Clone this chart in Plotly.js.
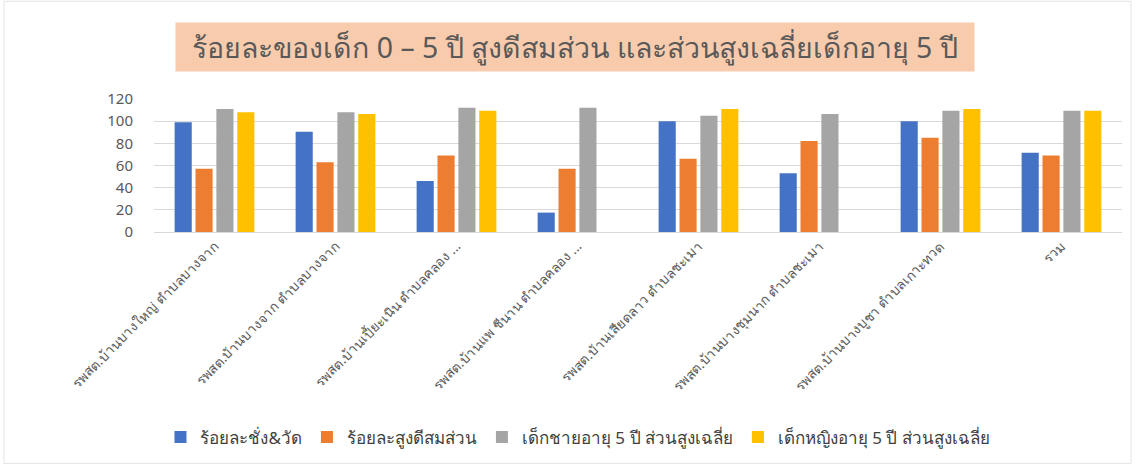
<!DOCTYPE html>
<html>
<head>
<meta charset="utf-8">
<script src="https://cdn.plot.ly/plotly-3.0.1.min.js"></script>
<style>html,body{margin:0;padding:0;background:#fff;}#chart{width:1136px;height:470px;}</style>
</head>
<body>
<div id="chart"></div>
<script>
const categories = [
  "รพสต.บ้านบางใหญ่ ตำบลบางจาก",
  "รพสต.บ้านบางจาก ตำบลบางจาก",
  "รพสต.บ้านเปี้ยะเนิน ตำบลคลอง ...",
  "รพสต.บ้านแพ ชีนาน ตำบลคลอง ...",
  "รพสต.บ้านเสียดลาว ตำบลชะเมา",
  "รพสต.บ้านบางชุมนาก ตำบลชะเมา",
  "รพสต.บ้านบางบูชา ตำบลเกาะทวด",
  "รวม"
];
const seriesNames = [
  "ร้อยละชั่ง&วัด",
  "ร้อยละสูงดีสมส่วน",
  "เด็กชายอายุ 5 ปี ส่วนสูงเฉลี่ย",
  "เด็กหญิงอายุ 5 ปี ส่วนสูงเฉลี่ย"
];
const weighMeasure = [99, 90.5, 46, 17.5, 100, 53, 100, 71.5];
const goodShape   = [57, 63, 69, 57, 66, 82, 85, 69];
const boysHeight  = [111, 108, 112, 112, 105, 106.5, 109.5, 109.5];
const girlsHeight = [108, 106.5, 109.5, null, 111, null, 111, 109.5];
const tickVals = [0, 20, 40, 60, 80, 100, 120];
const titleText = "ร้อยละของเด็ก 0 – 5 ปี สูงดีสมส่วน และส่วนสูงเฉลี่ยเด็กอายุ 5 ปี";

const colors = ["#4472C4", "#ED7D31", "#A5A5A5", "#FFC000"];
const seriesData = [weighMeasure, goodShape, boysHeight, girlsHeight];
const FONT = "Tahoma, 'Noto Sans', 'DejaVu Sans', sans-serif";

const traces = seriesData.map((vals, i) => ({
  type: "bar",
  name: seriesNames[i],
  x: categories,
  y: vals,
  marker: {color: colors[i]},
  hoverinfo: "x+y+name"
}));

const layout = {
  width: 1136,
  height: 470,
  paper_bgcolor: "#ffffff",
  plot_bgcolor: "#ffffff",
  margin: {l: 154, r: 14, t: 99, b: 238},
  barmode: "group",
  bargap: 0.31,
  bargroupgap: 0.18,
  font: {family: FONT, color: "#595959"},
  showlegend: true,
  legend: {
    orientation: "h",
    x: 0.438, xanchor: "center",
    y: -1.545, yanchor: "middle",
    font: {size: 17, color: "#404040", family: FONT},
    itemwidth: 30,
    traceorder: "normal"
  },
  xaxis: {
    type: "category",
    tickangle: -45,
    tickfont: {size: 13.5, color: "#595959", family: FONT},
    showgrid: false,
    showline: true,
    linecolor: "#d9d9d9",
    ticks: "",
    automargin: false
  },
  yaxis: {
    range: [0, 120],
    tickvals: tickVals,
    tickfont: {size: 15, color: "#595959", family: FONT},
    showgrid: true,
    gridcolor: "#d9d9d9",
    zeroline: false,
    showline: false,
    ticks: "",
    ticklabelstandoff: 20,
    automargin: false
  },
  annotations: [{
    xref: "paper", yref: "paper",
    x: 0.435, y: 1.394,
    xanchor: "center", yanchor: "middle",
    text: titleText,
    showarrow: false,
    bgcolor: "#F8CBAD",
    width: 794,
    height: 44,
    borderpad: 2,
    font: {size: 28.5, color: "#595959", family: FONT}
  }],
  shapes: [{
    type: "rect", xref: "paper", yref: "paper",
    x0: -0.155, x1: 1.0093, y0: -1.74, y1: 1.735,
    line: {color: "#e3e3e3", width: 1}
  }]
};

Plotly.newPlot("chart", traces, layout, {displayModeBar: false, staticPlot: true});
</script>
</body>
</html>
